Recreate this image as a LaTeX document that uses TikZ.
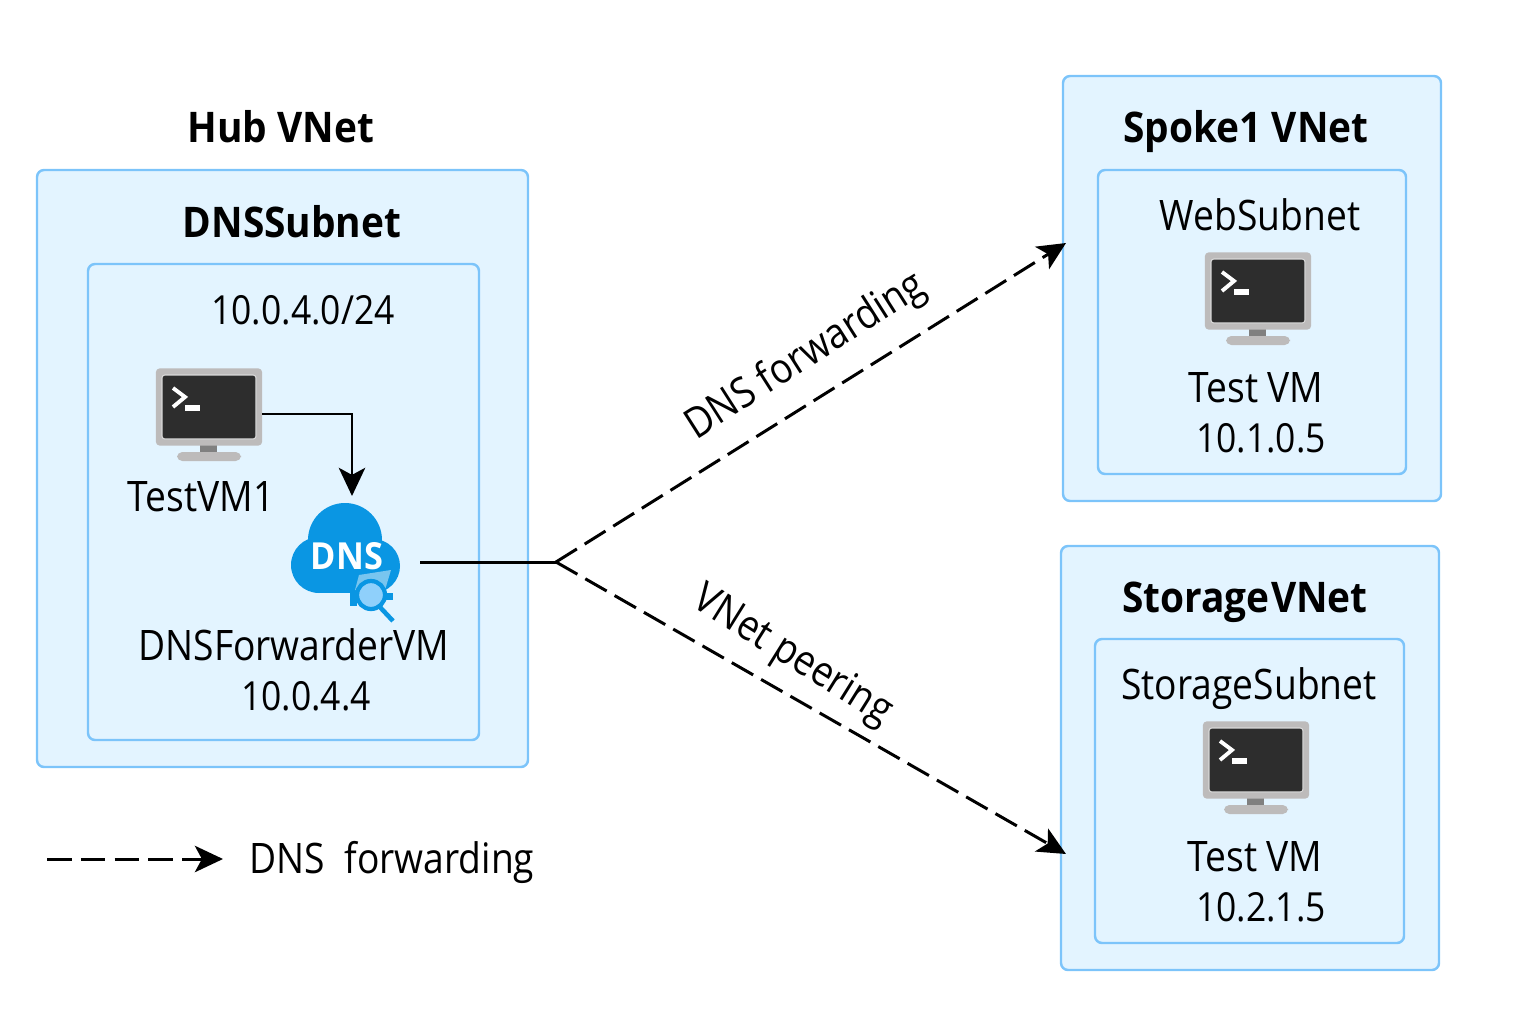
\documentclass[tikz,border=0pt]{standalone}
\usepackage{fontspec}
\setmainfont{Open Sans}[FakeStretch=0.885,BoldFeatures={FakeStretch=0.92}]
\usetikzlibrary{arrows.meta}
\definecolor{boxfill}{HTML}{E3F4FF}
\definecolor{boxline}{HTML}{7CC4FA}
\definecolor{vmgray}{HTML}{BDBBBB}
\definecolor{vmdark}{HTML}{2D2D2D}
\definecolor{dnsblue}{HTML}{0A96E3}
\definecolor{lensblue}{HTML}{8FD0FB}
\tikzset{
  vnetbox/.style={draw=boxline,fill=boxfill,line width=0.7pt,rounded corners=2pt},
  label/.style={inner sep=0pt,anchor=base,font=\fontsize{11.4}{14}\selectfont},
  wordlabel/.style={label,font=\fontsize{11.95}{14}\selectfont},
  title/.style={inner sep=0pt,anchor=base,font=\fontsize{12}{14}\selectfont\bfseries},
  link/.style={line width=0.85pt,-{Stealth[length=8pt,width=7.5pt,inset=2pt]}},
  dashlink/.style={link,dash pattern=on 7pt off 2.6pt},
  pics/vmicon/.style={code={
    \fill[vmgray,rounded corners=1.5pt] (-32,45) rectangle (32,54);
    \fill[gray] (-9,38) rectangle (8,45);
    \node[fill=vmgray,rounded corners=1pt,minimum width=10.6mm,minimum height=7.7mm,inner sep=0pt] (-body) at (0,0) {};
    \coordinate (-port) at (53,7);
    \fill[vmdark,draw=white!85!black,line width=0.3pt,rounded corners=0.8pt] (-47,-32) rectangle (47,32);
    \draw[white,line width=1.1pt,line join=miter] (-36,-19) -- (-24,-10) -- (-36,0);
    \fill[white] (-24,-2) rectangle (-9,4);
  }},
}
\begin{document}
\begin{tikzpicture}[x=0.01cm,y=-0.01cm]
\useasboundingbox (0,0) rectangle (1536,1024);

% Hub side
\node[title] (hubtitle) at (281,143) {Hub VNet};
\draw[vnetbox] (37,170) rectangle (528,767);
\node[title] (dnstitle) at (292,237) {DNSSubnet};
\draw[vnetbox] (88,264) rectangle (479,740);
\node[label] (dnsrange) at (303,324) {10.0.4.0/24};
\pic (testvm) at (209,407) {vmicon};
\node[wordlabel] (testvmlabel) at (201,511) {TestVM1};

% DNS cloud
\fill[dnsblue] (345,540) circle (37);
\fill[dnsblue] (319,565) circle (28);
\fill[dnsblue] (373,566) circle (27);
\fill[dnsblue] (319,560) rectangle (373,593);
\node[inner sep=0pt,text=white,font=\fontsize{10.6}{12}\selectfont\bfseries] (dnsicon) at (347,556) {DNS};
\fill[white,opacity=0.45] (359,575) -- (391,570) -- (385,590) -- (355,590) -- cycle;
\draw[dnsblue,line width=1.3pt] (378,605) -- (393,621);
\fill[dnsblue] (350,593) rectangle (357,606);
\fill[dnsblue] (384,593) rectangle (393,600);
\draw[dnsblue,fill=lensblue,line width=1.2pt] (371,595) circle (14);
\node[wordlabel] (fwdlabel) at (294,660) {DNSForwarderVM};
\node[label] (fwdip) at (306,710) {10.0.4.4};

% Spoke1
\draw[vnetbox] (1063,76) rectangle (1441,501);
\node[title] (spoketitle) at (1246,143) {Spoke1 VNet};
\draw[vnetbox] (1098,170) rectangle (1406,474);
\node[wordlabel] (websubnet) at (1260,230) {WebSubnet};
\pic (webvm) at (1258,291) {vmicon};
\node[wordlabel] (webvmlabel) at (1256,402) {Test VM};
\node[label] (webvmip) at (1261,452) {10.1.0.5};

% Storage
\draw[vnetbox] (1061,546) rectangle (1439,970);
\node[title] (storagetitle) at (1245,612) {Storage\kern-2.5pt\ VNet};
\draw[vnetbox] (1095,639) rectangle (1404,943);
\node[wordlabel] (storagesubnet) at (1249,699) {StorageSubnet};
\pic (storagevm) at (1256,760) {vmicon};
\node[wordlabel] (storagevmlabel) at (1255,871) {Test VM};
\node[label] (storagevmip) at (1261,921) {10.2.1.5};

% Connectors
\coordinate (dnstop) at (352,496);
\coordinate (dnsout) at (420,562);
\coordinate (fork) at (556,562);
\coordinate (spokein) at (1066,243);
\coordinate (storagein) at (1066,854);
\draw[link] (testvm-port) -| (dnstop);
\draw[line width=0.85pt] (dnsout) -- (fork);
\draw[dashlink] (fork) -- (spokein);
\draw[dashlink] (fork) -- (storagein);
\node[wordlabel,anchor=center,rotate=32.5] (fwdtext) at (806,357) {DNS forwarding};
\node[wordlabel,anchor=center,rotate=-32] (peertext) at (792,657) {VNet peering};

% Legend
\coordinate (legstart) at (47,859);
\coordinate (legend) at (223,859);
\draw[dashlink] (legstart) -- (legend);
\node[wordlabel] (legtext) at (392,873) {DNS\ \ forwarding};
\end{tikzpicture}
\end{document}
